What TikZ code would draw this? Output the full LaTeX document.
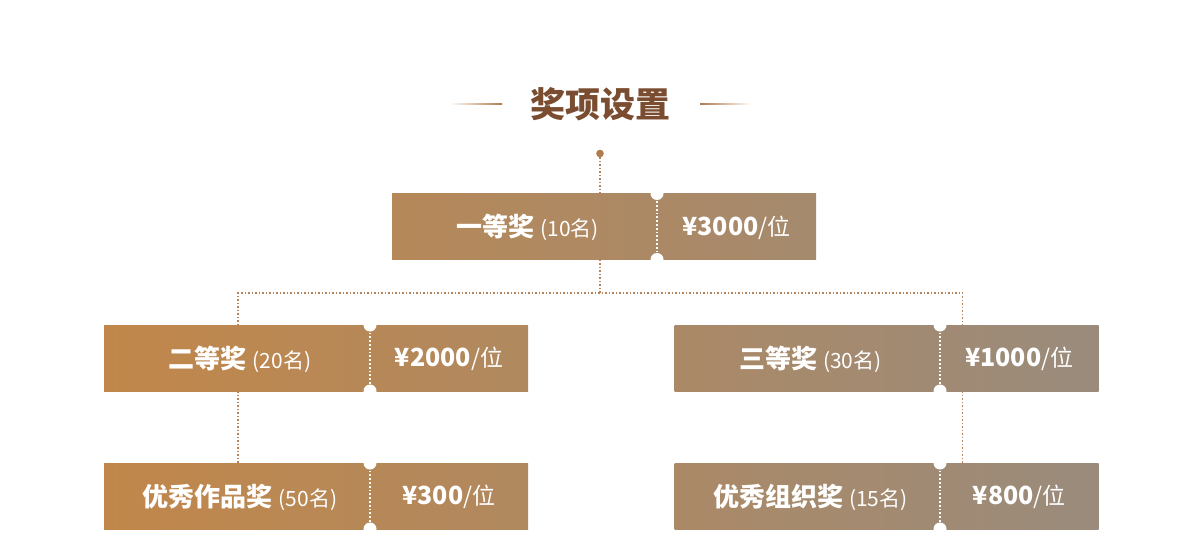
\documentclass[tikz,border=0pt]{standalone}
\usepackage{fontspec}
\usetikzlibrary{calc}
\newfontfamily\cjk{Noto Sans CJK SC}
\definecolor{ca}{HTML}{C1874A}
\definecolor{cb}{HTML}{9A8B7C}
\definecolor{titlec}{HTML}{7A4D31}
\definecolor{linec}{HTML}{B7835A}
\definecolor{dotc}{HTML}{B07A4A}
\tikzset{
  box/.style={draw=none, inner sep=0pt, outer sep=0pt, minimum height=66pt, minimum width=424pt},
  conn/.style={draw=linec, line width=1.5pt, dash pattern=on 1.5pt off 2pt},
  perf/.style={draw=white, line width=1.8pt, dash pattern=on 1.8pt off 2pt},
  notch/.style={fill=white},
  lab/.style={text=white, inner sep=0pt, font=\cjk},
}
\newcommand{\prname}[2]{{\fontsize{26}{28}\selectfont\bfseries #1}\hspace{6pt}{\fontsize{21}{23}\selectfont(#2名)}}
\newcommand{\prval}[1]{{\fontsize{25}{27}\selectfont\bfseries ¥#1}{\fontsize{23}{25}\selectfont/位}}
\begin{document}
\begin{tikzpicture}[x=1pt,y=-1pt]
\useasboundingbox (0,0) rectangle (1201,535);
% title
\node[font=\cjk\bfseries\fontsize{35}{38}\selectfont, text=titlec, inner sep=0pt] (title) at (600,104) {奖项设置};
\shade[left color=white, right color=dotc] (449,103.2) rectangle (502,104.8);
\shade[left color=dotc, right color=white] (700,103.2) rectangle (752,104.8);
% dot
\fill[dotc] (600,153.5) circle (3.8pt);
\coordinate (dot) at (600,153.5);
% boxes
\node[box, left color=ca!71!cb, right color=ca!28!cb] (b1) at (604,226.5) {};
\node[box, left color=ca, right color=ca!57!cb] (b2) at (316,358) {};
\node[box, left color=ca!43!cb, right color=cb] (b3) at (886.5,358) {};
\node[box, left color=ca, right color=ca!57!cb] (b4) at (316,496) {};
\node[box, left color=ca!43!cb, right color=cb] (b5) at (886.5,496) {};
% split coordinates
\coordinate (s1) at (657,0);
\coordinate (s2) at (370,0);
\coordinate (s3) at (940,0);
% perforations
\foreach \b/\s in {b1/s1,b2/s2,b3/s3,b4/s2,b5/s3}{
  \draw[perf] (\s |- \b.north) -- (\s |- \b.south);
  \fill[notch] (\s |- \b.north) circle (6.5pt);
  \fill[notch] (\s |- \b.south) circle (6.5pt);
}
% connectors
\coordinate (jl) at (238,293);
\coordinate (jr) at (962.5,293);
\coordinate (jm) at (600,293);
\draw[conn] (dot) -- (dot |- b1.north);
\draw[conn] (jm |- b1.south) -- (jm);
\draw[conn] (jl |- b2.north) -- (jl) -- (jr) -- (jr |- b3.north);
\draw[conn] (jl |- b2.south) -- (jl |- b4.north);
\draw[conn] (jr |- b3.south) -- (jr |- b5.north);
% labels
\node[lab] (l1) at ($(b1.west)!0.5!(s1 |- b1.west)+(3,1)$) {\prname{一等奖}{10}};
\node[lab] (v1) at ($(b1.east)!0.5!(s1 |- b1.east)+(0,1)$) {\prval{3000}};
\node[lab] (l2) at ($(b2.west)!0.5!(s2 |- b2.west)+(3,1)$) {\prname{二等奖}{20}};
\node[lab] (v2) at ($(b2.east)!0.5!(s2 |- b2.east)+(0,1)$) {\prval{2000}};
\node[lab] (l3) at ($(b3.west)!0.5!(s3 |- b3.west)+(3,1)$) {\prname{三等奖}{30}};
\node[lab] (v3) at ($(b3.east)!0.5!(s3 |- b3.east)+(0,1)$) {\prval{1000}};
\node[lab] (l4) at ($(b4.west)!0.5!(s2 |- b4.west)+(3,1)$) {\prname{优秀作品奖}{50}};
\node[lab] (v4) at ($(b4.east)!0.5!(s2 |- b4.east)+(0,1)$) {\prval{300}};
\node[lab] (l5) at ($(b5.west)!0.5!(s3 |- b5.west)+(3,1)$) {\prname{优秀组织奖}{15}};
\node[lab] (v5) at ($(b5.east)!0.5!(s3 |- b5.east)+(0,1)$) {\prval{800}};
\end{tikzpicture}
\end{document}
